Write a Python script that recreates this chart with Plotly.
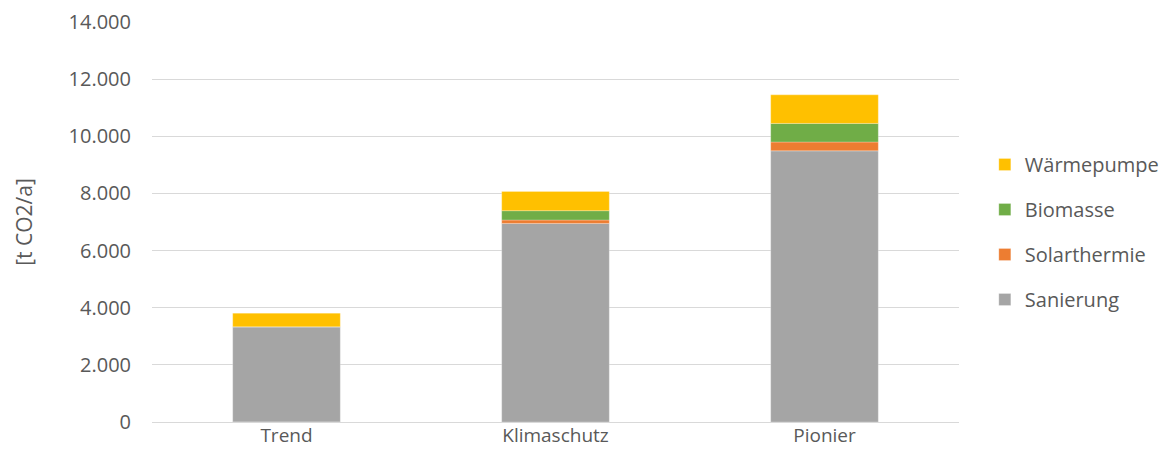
import plotly.graph_objects as go

categories = ["Trend", "Klimaschutz", "Pionier"]
sanierung = [3330, 6950, 9490]
solarthermie = [-40, 120, 310]
biomasse = [0, 325, 650]
waermepumpe = [480, 675, 1000]

# (name, values, colour, legend rank) - stacked bottom to top, legend listed top to bottom
series = [
    ("Sanierung", sanierung, "#a5a5a5", 4),
    ("Solarthermie", solarthermie, "#ed7d31", 3),
    ("Biomasse", biomasse, "#70ad47", 2),
    ("Wärmepumpe", waermepumpe, "#ffc000", 1),
]

font_family = "Open Sans, Liberation Sans, sans-serif"
text_color = "#595959"

fig = go.Figure()
for name, vals, color, rank in series:
    fig.add_trace(go.Bar(
        x=categories, y=vals, name=name, legendgroup=name, legendrank=rank,
        marker=dict(color=color, line=dict(color="rgba(255,255,255,0.5)", width=0.5)),
    ))

fig.update_layout(
    barmode="relative",
    bargap=0.6,
    width=1164, height=460,
    margin=dict(l=152, r=205, t=22, b=38, autoexpand=False),
    paper_bgcolor="white", plot_bgcolor="white",
    separators=",.",
    font=dict(family=font_family, size=20, color=text_color),
    legend=dict(
        traceorder="grouped", tracegroupgap=16,
        x=1.032, y=0.475, xanchor="left", yanchor="middle",
        font=dict(size=20, color=text_color),
    ),
    xaxis=dict(showgrid=False, showline=False, ticks="",
               tickfont=dict(size=19, color=text_color)),
    yaxis=dict(range=[0, 14000], dtick=2000, tickformat=",d",
               showgrid=True, gridcolor="#d9d9d9", gridwidth=1,
               zeroline=True, zerolinecolor="#d9d9d9", zerolinewidth=1,
               showline=False, ticks="", ticklabelstandoff=20,
               tickfont=dict(size=20, color=text_color),
               title=dict(text="[t CO2/a]", standoff=30,
                          font=dict(size=21, color=text_color))),
)

fig.write_html("out.html")
